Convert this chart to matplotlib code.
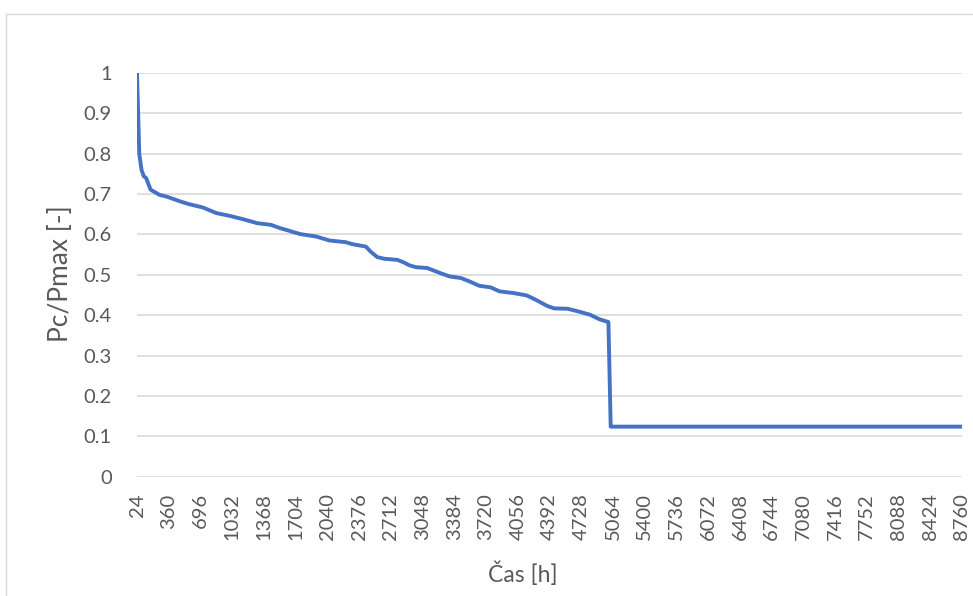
import matplotlib
matplotlib.use("Agg")
import matplotlib.pyplot as plt
from matplotlib.lines import Line2D

# Data (hour, Pc/Pmax)
hours = [24, 48, 72, 96, 120, 168, 264, 336, 480, 576, 720, 864, 1008, 1144,
         1296, 1440, 1536, 1752, 1920, 2064, 2232, 2304, 2448, 2496, 2568,
         2640, 2784, 2856, 2904, 2976, 3096, 3240, 3336, 3456, 3552, 3648,
         3768, 3864, 4008, 4152, 4248, 4368, 4440, 4584, 4704, 4824, 4920,
         5016, 5040, 8760]
ratio = [1.0, 0.80, 0.76, 0.744, 0.74, 0.711, 0.698, 0.694, 0.682, 0.675,
         0.667, 0.653, 0.646, 0.638, 0.628, 0.624, 0.616, 0.601, 0.595, 0.585,
         0.581, 0.576, 0.570, 0.558, 0.544, 0.540, 0.537, 0.530, 0.524, 0.519,
         0.517, 0.504, 0.496, 0.492, 0.483, 0.473, 0.469, 0.459, 0.455, 0.449,
         0.438, 0.423, 0.417, 0.416, 0.409, 0.401, 0.390, 0.383, 0.124, 0.124]

x_ticks = list(range(24, 8761, 336))
y_ticks = [0, 0.1, 0.2, 0.3, 0.4, 0.5, 0.6, 0.7, 0.8, 0.9, 1]
y_tick_labels = ["0", "0.1", "0.2", "0.3", "0.4", "0.5", "0.6", "0.7", "0.8", "0.9", "1"]

plt.rcParams['font.family'] = ['Lato', 'DejaVu Sans']

W, H = 973, 596
fig = plt.figure(figsize=(W / 100, H / 100), dpi=100)
fig.patch.set_facecolor('white')

# chart-area border (light gray, left and top visible)
fig.add_artist(Line2D([5.5 / W, 5.5 / W], [0, 1 - 13.5 / H], transform=fig.transFigure,
                      color='#d9d9d9', lw=1.0))
fig.add_artist(Line2D([5.5 / W, 1], [1 - 13.5 / H, 1 - 13.5 / H], transform=fig.transFigure,
                      color='#d9d9d9', lw=1.0))

left, right = 137 / W, 962 / W
bottom, top = 1 - 476.7 / H, 1 - 73 / H
ax = fig.add_axes([left, bottom, right - left, top - bottom])

ax.plot(hours, ratio, color='#4472C4', lw=2.8, solid_joinstyle='round', zorder=3)

ax.set_xlim(24, 8760)
ax.set_ylim(0, 1)
ax.set_xticks(x_ticks)
ax.set_xticklabels([str(t) for t in x_ticks], rotation=90, fontsize=14.5, color='#595959')
ax.set_yticks(y_ticks)
ax.set_yticklabels(y_tick_labels, fontsize=14.5, color='#595959')
ax.tick_params(axis='x', length=0, pad=12)
ax.tick_params(axis='y', length=0, pad=18)

ax.grid(axis='y', color='#d9d9d9', lw=1.2)
ax.set_axisbelow(True)
for s in ax.spines.values():
    s.set_visible(False)

fig.text(61 / W, 1 - 274 / H, "Pc/Pmax [-]", rotation=90, ha='center', va='center',
         fontsize=19, color='#595959')
fig.text(523 / W, 1 - 574 / H, "Čas [h]", ha='center', va='center',
         fontsize=16.5, color='#595959')

fig.savefig("out.png", dpi=100, facecolor='white')
